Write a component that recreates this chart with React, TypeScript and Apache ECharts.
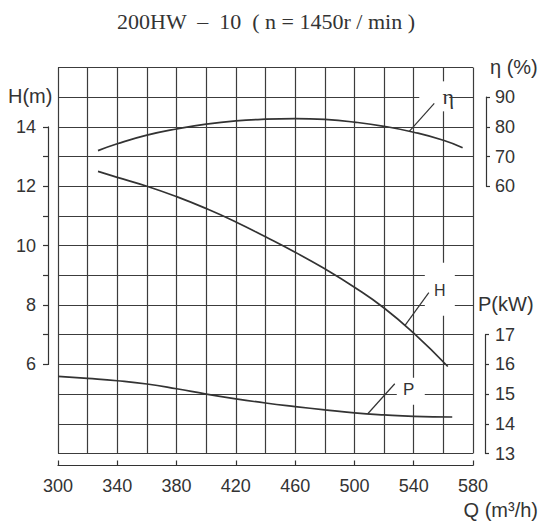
import React, { useEffect, useRef } from 'react';
import * as echarts from 'echarts';

// Flow axis (m³/h)
const flowMin = 300;
const flowMax = 580;
const flowTicks = [300, 340, 380, 420, 460, 500, 540, 580];

// Head scale (m) used by the grid; visible labels only span 6–14
const headMin = 3;
const headMax = 16;
const headTicks = [6, 8, 10, 12, 14];

// Efficiency scale (%) shares the grid rows: 10 % per metre row
const effTicks = [60, 70, 80, 90];
// Shaft power scale (kW): 1 kW per metre row
const powerTicks = [13, 14, 15, 16, 17];

// Efficiency curve η(Q)
const effFlow = [327, 340, 360, 380, 400, 420, 440, 460, 480, 500, 520, 540, 560, 573];
const effValues = [72.0, 74.3, 77.2, 79.3, 80.9, 82.0, 82.6, 82.8, 82.5, 81.6, 80.2, 78.2, 75.5, 73.0];

// Head curve H(Q)
const headFlow = [327, 340, 360, 380, 400, 420, 440, 460, 480, 500, 520, 540, 563];
const headValues = [12.5, 12.3, 12.0, 11.65, 11.25, 10.8, 10.3, 9.78, 9.22, 8.6, 7.9, 7.05, 5.93];

// Power curve P(Q)
const powerFlow = [300, 320, 340, 360, 380, 400, 420, 440, 460, 480, 500, 520, 540, 566];
const powerValues = [15.6, 15.53, 15.45, 15.34, 15.18, 15.0, 14.84, 14.7, 14.58, 14.47, 14.37, 14.3, 14.25, 14.23];

const ink = '#333';
const gridInk = '#3c3c3c';
const sans = '"Liberation Sans", Arial, sans-serif';
const serif = '"Liberation Serif", "Times New Roman", serif';

function valueAt(xs: number[], ys: number[], q: number): number {
  for (let i = 0; i < xs.length - 1; i++) {
    if (q >= xs[i] && q <= xs[i + 1]) {
      const t = (q - xs[i]) / (xs[i + 1] - xs[i]);
      return ys[i] + t * (ys[i + 1] - ys[i]);
    }
  }
  return ys[ys.length - 1];
}

export default function App() {
  const ref = useRef<HTMLDivElement>(null);

  useEffect(() => {
    const chart = echarts.init(ref.current!, null, { renderer: 'svg' });

    const gridLeft = 58;
    const gridTop = 67.5;
    const gridW = 415;
    const gridH = 386;
    const rowPx = gridH / (headMax - headMin);
    const topOf = (h: number) => gridTop + (headMax - h) * rowPx;

    const hiddenX = (gridIndex: number) => ({
      type: 'value' as const,
      gridIndex,
      min: flowMin,
      max: flowMax,
      show: false,
    });

    const spineLine = { show: true, lineStyle: { color: ink, width: 1.2 } };
    const labelStyle = { color: ink, fontSize: 18, fontFamily: sans };

    const curve = { type: 'line' as const, smooth: 0.5, symbol: 'none', silent: true,
      lineStyle: { color: ink, width: 1.7 } };

    chart.setOption({
      animation: false,
      backgroundColor: '#fff',
      grid: [
        { left: gridLeft, top: gridTop, width: gridW, height: gridH },
        { left: gridLeft, top: topOf(14), width: gridW, height: 8 * rowPx },
        { left: gridLeft, top: topOf(15), width: gridW, height: 3 * rowPx },
        { left: gridLeft, top: topOf(7), width: gridW, height: 4 * rowPx },
      ],
      xAxis: [
        // flow scale with a vertical rule every 20 m³/h
        {
          type: 'value',
          gridIndex: 0,
          min: flowMin,
          max: flowMax,
          interval: 20,
          axisLine: { show: false },
          axisTick: { show: false },
          axisLabel: { show: false },
          splitLine: { show: true, lineStyle: { color: gridInk, width: 1.2 } },
        },
        hiddenX(1),
        hiddenX(2),
        hiddenX(3),
        // detached flow axis below the grid
        {
          type: 'value',
          gridIndex: 0,
          position: 'bottom',
          min: flowMin,
          max: flowMax,
          interval: 20,
          offset: 12,
          axisLine: { show: true, onZero: false, lineStyle: { color: ink, width: 1.2 } },
          axisTick: { show: true, inside: true, length: 5, customValues: flowTicks,
            lineStyle: { color: ink, width: 1.2 } },
          axisLabel: { ...labelStyle, margin: 11, customValues: flowTicks },
          splitLine: { show: false },
        },
      ],
      yAxis: [
        {
          type: 'value',
          gridIndex: 0,
          min: headMin,
          max: headMax,
          interval: 1,
          axisLine: { show: false },
          axisTick: { show: false },
          axisLabel: { show: false },
          splitLine: { show: true, lineStyle: { color: gridInk, width: 1.2 } },
        },
        { type: 'value', gridIndex: 0, min: -30, max: 100, show: false, splitLine: { show: false } },
        { type: 'value', gridIndex: 0, min: 13, max: 26, show: false, splitLine: { show: false } },
        {
          type: 'value',
          gridIndex: 1,
          position: 'left',
          min: 6,
          max: 14,
          interval: 1,
          offset: 10,
          axisLine: spineLine,
          axisTick: { show: true, length: 5, lineStyle: { color: ink, width: 1.2 } },
          axisLabel: { ...labelStyle, margin: 12, customValues: headTicks },
          splitLine: { show: false },
        },
        {
          type: 'value',
          gridIndex: 2,
          position: 'right',
          min: 60,
          max: 90,
          interval: 10,
          offset: 13,
          axisLine: spineLine,
          axisTick: { show: true, length: 4, customValues: effTicks, lineStyle: { color: ink, width: 1.2 } },
          axisLabel: { ...labelStyle, margin: 9, customValues: effTicks },
          splitLine: { show: false },
        },
        {
          type: 'value',
          gridIndex: 3,
          position: 'right',
          min: 13,
          max: 17,
          interval: 1,
          offset: 12,
          axisLine: spineLine,
          axisTick: { show: true, length: 4, customValues: powerTicks, lineStyle: { color: ink, width: 1.2 } },
          axisLabel: { ...labelStyle, margin: 10, customValues: powerTicks },
          splitLine: { show: false },
        },
      ],
      series: [
        { ...curve, name: 'η', xAxisIndex: 0, yAxisIndex: 1,
          data: effFlow.map((q, i) => [q, effValues[i]]) },
        { ...curve, name: 'H', xAxisIndex: 0, yAxisIndex: 0,
          data: headFlow.map((q, i) => [q, headValues[i]]) },
        { ...curve, name: 'P', xAxisIndex: 0, yAxisIndex: 2,
          data: powerFlow.map((q, i) => [q, powerValues[i]]) },
      ],
    });

    // Curve call-outs: a leader from a point on the curve to a letter on a white patch
    const callouts = [
      { text: 'η', axis: 1, q: 537, v: valueAt(effFlow, effValues, 537), dx: 25, dy: -28,
        tx: 14, ty: -7, box: [-15, -22, 30, 30], font: `22px ${serif}` },
      { text: 'H', axis: 0, q: 534, v: valueAt(headFlow, headValues, 534), dx: 24, dy: -33,
        tx: 11, ty: -2, box: [-4, -30, 30, 53], font: `16px ${sans}` },
      { text: 'P', axis: 2, q: 509, v: valueAt(powerFlow, powerValues, 509), dx: 27, dy: -30,
        tx: 14, ty: 6, box: [2, -6, 28, 27], font: `17px ${sans}` },
    ];

    const graphics: any[] = [];
    callouts.forEach((c) => {
      const p = chart.convertToPixel({ xAxisIndex: 0, yAxisIndex: c.axis }, [c.q, c.v]) as number[];
      const ex = p[0] + c.dx;
      const ey = p[1] + c.dy;
      graphics.push({
        type: 'rect', z: 5, silent: true,
        shape: { x: ex + c.box[0], y: ey + c.box[1], width: c.box[2], height: c.box[3] },
        style: { fill: '#fff' },
      });
      graphics.push({
        type: 'line', z: 6, silent: true,
        shape: { x1: p[0], y1: p[1], x2: ex, y2: ey },
        style: { stroke: ink, lineWidth: 1.2 },
      });
      graphics.push({
        type: 'text', z: 7, silent: true, x: ex + c.tx, y: ey + c.ty,
        style: { text: c.text, font: c.font, fill: ink, textAlign: 'center', textVerticalAlign: 'middle' },
      });
    });

    const label = (text: string, x: number, y: number, font: string, align = 'left') => ({
      type: 'text', z: 7, silent: true, x, y,
      style: { text, font, fill: ink, textAlign: align, textVerticalAlign: 'middle' },
    });

    graphics.push(label('200HW  –  10  ( n = 1450r / min )', 266, 21, `22px ${serif}`, 'center'));
    graphics.push(label('H(m)', 8, 96, `20px ${sans}`));
    graphics.push(label('η (%)', 490, 67, `20px ${sans}`));
    graphics.push(label('P(kW)', 478, 304, `20px ${sans}`));
    graphics.push(label('Q (m³/h)', 538, 510, `20px ${sans}`, 'right'));

    chart.setOption({ graphic: graphics });

    return () => chart.dispose();
  }, []);

  return (
    <div
      ref={ref}
      style={{ position: 'fixed', left: 0, top: 0, width: 541, height: 525, background: '#fff' }}
    />
  );
}
